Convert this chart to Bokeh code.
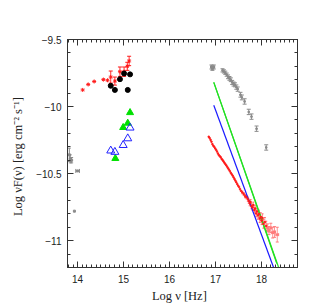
from bokeh.plotting import figure
from bokeh.models import (Range1d, SingleIntervalTicker, LinearAxis, Whisker,
                          ColumnDataSource, TeeHead, CustomJSTickFormatter)
from bokeh.embed import file_html
from bokeh.resources import INLINE

# ---------------- data ----------------
# optical: red stars (no error bars)
opt_star_x = [14.11, 14.23, 14.36, 14.56, 14.65]
opt_star_y = [-9.876, -9.835, -9.813, -9.799, -9.804]

# optical: red with error bars
opt_err_x = [14.72, 14.81, 14.92, 15.01, 15.08, 15.12]
opt_err_y = [-9.78, -9.81, -9.74, -9.74, -9.70, -9.66]
opt_err_e = [0.045, 0.03, 0.035, 0.035, 0.03, 0.035]

# black filled circles
blk_x = [14.72, 14.81, 14.92, 15.01, 15.09, 15.14]
blk_y = [-9.845, -9.876, -9.796, -9.753, -9.876, -9.760]

# green filled triangles
grn_x = [15.14, 15.09, 14.99, 14.82]
grn_y = [-10.045, -10.124, -10.156, -10.387]

# blue open triangles
blu_x = [15.14, 15.09, 14.99, 14.72, 14.81]
blu_y = [-10.158, -10.238, -10.288, -10.329, -10.339]

# grey points at low frequency
gl_x = [13.82, 13.84, 13.87, 14.00, 13.93]
gl_y = [-10.36, -10.39, -10.40, -10.48, -10.78]
gl_ye = [0.05, 0.03, 0.02, 0.0, 0.0]
gl_xe = [0.0, 0.0, 0.0, 0.04, 0.0]

# grey X-ray points (high state)
gx_x = [16.91, 16.93, 16.96, 17.15, 17.18, 17.21, 17.24, 17.27, 17.30, 17.33,
        17.36, 17.39, 17.42, 17.45, 17.48, 17.54, 17.57, 17.63, 17.72, 17.78,
        17.89, 18.10]
gx_y = [-9.705, -9.715, -9.705, -9.730, -9.738, -9.748, -9.762, -9.778, -9.790, -9.800,
        -9.820, -9.832, -9.838, -9.855, -9.870, -9.912, -9.932, -9.962, -10.040, -10.075,
        -10.165, -10.305]
gx_e = [0.015, 0.015, 0.015, 0.012, 0.012, 0.012, 0.012, 0.014, 0.014, 0.014,
        0.015, 0.015, 0.015, 0.016, 0.016, 0.018, 0.018, 0.02, 0.02, 0.02,
        0.02, 0.02]

# red X-ray spectrum (low state)
rx_x = [16.85, 16.87, 16.89, 16.91, 16.93, 16.95, 16.97, 16.99, 17.01, 17.03,
        17.05, 17.07, 17.09, 17.11, 17.13, 17.15, 17.17, 17.19, 17.21, 17.23,
        17.25, 17.27, 17.29, 17.31, 17.33, 17.35, 17.37, 17.39, 17.41, 17.43,
        17.45, 17.47, 17.49, 17.51, 17.53, 17.55, 17.58, 17.61, 17.64, 17.67,
        17.70, 17.72, 17.74, 17.76, 17.78, 17.80, 17.82, 17.84, 17.86, 17.88,
        17.90, 17.92, 17.94, 17.96, 17.98, 18.00, 18.02, 18.04, 18.07, 18.10]
rx_y = [-10.225, -10.235, -10.248, -10.262, -10.280, -10.292, -10.300, -10.312, -10.322, -10.335,
        -10.350, -10.362, -10.370, -10.378, -10.390, -10.398, -10.408, -10.418, -10.428, -10.438,
        -10.448, -10.460, -10.470, -10.482, -10.494, -10.505, -10.515, -10.528, -10.540, -10.552,
        -10.565, -10.578, -10.590, -10.600, -10.615, -10.628, -10.640, -10.652, -10.668, -10.676,
        -10.690, -10.705, -10.722, -10.712, -10.742, -10.752, -10.735, -10.772, -10.760, -10.797,
        -10.782, -10.812, -10.800, -10.835, -10.822, -10.850, -10.832, -10.875, -10.862, -10.890]
rx_e = [0.004, 0.004, 0.004, 0.004, 0.004, 0.004, 0.004, 0.004, 0.004, 0.004,
        0.004, 0.004, 0.004, 0.004, 0.004, 0.004, 0.004, 0.004, 0.004, 0.004,
        0.005, 0.005, 0.005, 0.005, 0.005, 0.005, 0.005, 0.005, 0.005, 0.006,
        0.006, 0.006, 0.006, 0.007, 0.007, 0.008, 0.01, 0.01, 0.012, 0.012,
        0.015, 0.015, 0.018, 0.018, 0.02, 0.02, 0.022, 0.022, 0.025, 0.025,
        0.025, 0.028, 0.028, 0.03, 0.03, 0.03, 0.032, 0.032, 0.035, 0.035]

# highest-energy bins (lighter)
rh_x = [18.13, 18.16, 18.20, 18.24, 18.28, 18.34]
rh_y = [-10.905, -10.925, -10.905, -10.940, -10.935, -10.955]
rh_e = [0.03, 0.03, 0.035, 0.04, 0.04, 0.055]
rh_xe = [0.015, 0.015, 0.02, 0.02, 0.02, 0.03]

# power-law model lines (endpoints)
g1_x = [16.96, 18.33]
g1_y = [-9.82, -11.17]
g2_x = [16.96, 18.37]
g2_y = [-9.82, -11.20]
b_x = [16.96, 18.26]
b_y = [-9.99, -11.20]

# ---------------- figure ----------------
W, H = 330, 305
p = figure(width=W, height=H, output_backend="svg", toolbar_location=None,
           x_range=Range1d(13.78, 18.78), y_range=Range1d(-11.2, -9.5),
           min_border_left=67, min_border_right=W - 297, min_border_top=39,
           min_border_bottom=H - 273)
p.grid.visible = False
p.outline_line_color = "#333333"
p.outline_line_width = 1
p.background_fill_color = "white"
p.border_fill_color = "white"

xt = SingleIntervalTicker(interval=1, num_minor_ticks=10)
yt = SingleIntervalTicker(interval=0.5, num_minor_ticks=5)
p.xaxis.ticker = xt
p.yaxis.ticker = yt

SANS = "Liberation Sans"
SERIF = "Liberation Serif"

for ax in (p.xaxis[0], p.yaxis[0]):
    ax.major_tick_in = 6
    ax.major_tick_out = 0
    ax.minor_tick_in = 3
    ax.minor_tick_out = 0
    ax.axis_line_color = "#333333"
    ax.major_tick_line_color = "#333333"
    ax.minor_tick_line_color = "#333333"
    ax.major_label_text_font = SANS
    ax.major_label_text_font_size = "10px"
    ax.major_label_text_color = "#222222"
    ax.axis_label_text_font = SERIF
    ax.axis_label_text_font_style = "normal"
    ax.axis_label_text_font_size = "12.5px"
    ax.axis_label_text_color = "#222222"

p.xaxis.axis_label = "Log  \u03bd  [Hz]"
p.xaxis.major_label_standoff = 7
p.xaxis.axis_label_standoff = 3
p.yaxis.axis_label = "Log  \u03bdF(\u03bd)  [erg cm\u207b\u00b2 s\u207b\u00b9]"
p.yaxis.major_label_standoff = 6
p.yaxis.axis_label_standoff = 8
p.yaxis.major_label_overrides = {-9.5: "\u22129.5", -10: "\u221210",
                                 -10.5: "\u221210.5", -11: "\u221211"}

blank = CustomJSTickFormatter(code="return '';")
for loc, tk in (("above", xt), ("right", yt)):
    a = LinearAxis(ticker=tk, formatter=blank,
                   major_tick_in=6, major_tick_out=0, minor_tick_in=3,
                   minor_tick_out=0, axis_line_color="#333333",
                   major_tick_line_color="#333333", minor_tick_line_color="#333333",
                   major_label_standoff=0)
    p.add_layout(a, loc)

RED = "#ff1a1a"
GREY = "#8a8a8a"


def vbars(xs, ys, es, color, width=1, head=4, alpha=1.0):
    src = ColumnDataSource(dict(x=xs, lo=[y - e for y, e in zip(ys, es)],
                                hi=[y + e for y, e in zip(ys, es)]))
    w = Whisker(source=src, base="x", lower="lo", upper="hi", dimension="height",
                line_color=color, line_width=width, line_alpha=alpha,
                upper_head=TeeHead(size=head, line_color=color, line_alpha=alpha),
                lower_head=TeeHead(size=head, line_color=color, line_alpha=alpha))
    p.add_layout(w)


def hbars(xs, ys, es, color, width=1, head=4, alpha=1.0):
    src = ColumnDataSource(dict(y=ys, lo=[x - e for x, e in zip(xs, es)],
                                hi=[x + e for x, e in zip(xs, es)]))
    w = Whisker(source=src, base="y", lower="lo", upper="hi", dimension="width",
                line_color=color, line_width=width, line_alpha=alpha,
                upper_head=TeeHead(size=head, line_color=color, line_alpha=alpha),
                lower_head=TeeHead(size=head, line_color=color, line_alpha=alpha))
    p.add_layout(w)


# model lines
p.line(g1_x, g1_y, line_color="#22e022", line_width=1.2)
p.line(g2_x, g2_y, line_color="#22e022", line_width=1.2)
p.line(b_x, b_y, line_color="#1a1aff", line_width=1.2)

# grey low-frequency points
vbars([x for x, e in zip(gl_x, gl_ye) if e > 0], [y for y, e in zip(gl_y, gl_ye) if e > 0],
      [e for e in gl_ye if e > 0], GREY, head=3)
hbars([x for x, e in zip(gl_x, gl_xe) if e > 0], [y for y, e in zip(gl_y, gl_xe) if e > 0],
      [e for e in gl_xe if e > 0], GREY, head=4)
p.scatter(gl_x, gl_y, marker="square", size=2, color=GREY)

# grey X-ray
vbars(gx_x, gx_y, gx_e, GREY, head=4, width=0.9)
hbars(gx_x[:3], gx_y[:3], [0.02, 0.02, 0.02], GREY, head=3, width=0.9)
p.scatter(gx_x, gx_y, marker="square", size=1.5, color=GREY)

# red X-ray spectrum
sel = [i for i, e in enumerate(rx_e) if e >= 0.01]
vbars([rx_x[i] for i in sel], [rx_y[i] for i in sel], [rx_e[i] for i in sel],
      "#ff6666", head=2, width=0.7)
p.scatter(rx_x, rx_y, marker="square", size=1.3, color=RED)
vbars(rh_x, rh_y, rh_e, "#ff7a7a", head=3, width=0.8)
hbars(rh_x, rh_y, rh_xe, "#ff7a7a", head=3, width=0.8)
p.scatter(rh_x, rh_y, marker="square", size=1.5, color="#ff7a7a")

# optical
p.scatter(opt_star_x, opt_star_y, marker="asterisk", size=4, line_color=RED, line_width=1)
vbars(opt_err_x, opt_err_y, opt_err_e, RED, head=4, width=0.9)
p.scatter(opt_err_x, opt_err_y, marker="asterisk", size=4, line_color=RED, line_width=1)
p.scatter(blk_x, blk_y, marker="circle", size=5, color="black")
p.scatter(grn_x, grn_y, marker="triangle", size=7, color="#00e000")
p.scatter(blu_x, blu_y, marker="triangle", size=8, fill_color=None,
          line_color="#2222ff", line_width=1)

open("out.html", "w").write(file_html(p, INLINE))
